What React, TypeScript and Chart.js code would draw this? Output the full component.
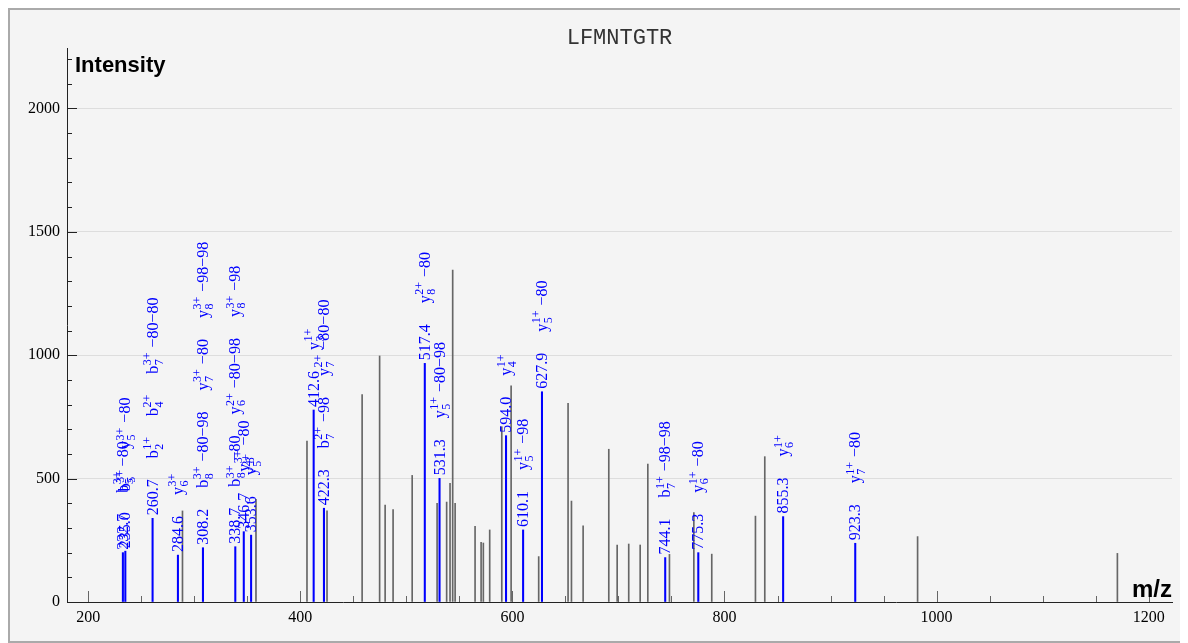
import React, { useEffect, useRef } from "react";
import { Chart, registerables } from "chart.js";

Chart.register(...registerables);

const TITLE = "LFMNTGTR";
const X_TITLE = "m/z";
const Y_TITLE = "Intensity";

// unannotated peaks
const unmatchedMz = [
  288.9, 358.2, 406.3, 425.2, 458.3, 474.8, 480.0, 487.5, 505.5, 529.0, 538.0, 541.2,
  543.7, 546.0, 564.8, 570.5, 572.6, 578.6, 590.0, 598.8, 624.8, 652.5, 655.7, 666.7,
  690.9, 698.8, 709.7, 720.5, 727.7, 748.1, 771.1, 788.0, 829.2, 838.0, 982.1, 1170.5,
];
const unmatchedIntensity = [
  369, 416, 652, 369, 841, 997, 393, 375, 513, 400, 405, 481,
  1345, 400, 307, 242, 239, 292, 710, 876, 184, 805, 409, 309,
  619, 231, 235, 231, 559, 193, 362, 194, 348, 589, 265, 197,
];

// annotated peaks
const matchedMz = [
  232.7, 235.0, 260.7, 284.6, 308.2, 338.7, 346.7, 353.6, 412.6, 422.3,
  517.4, 531.3, 594.0, 610.1, 627.9, 744.1, 775.3, 855.3, 923.3,
];
const matchedIntensity = [
  200, 206, 339, 190, 220, 224, 285, 271, 778, 380,
  967, 501, 674, 292, 852, 180, 200, 346, 238,
];
const matchedLabels = [
  "232.7", "235.0", "260.7", "284.6", "308.2", "338.7", "346.7", "353.6", "412.6", "422.3",
  "517.4", "531.3", "594.0", "610.1", "627.9", "744.1", "775.3", "855.3", "923.3",
];
const matchedIons: string[][] = [
  ["b_5^{3+}−80"],
  ["b_5^{3+}", "y_5^{3+}−80"],
  ["b_2^{1+}", "b_4^{2+}", "b_7^{3+}−80−80"],
  ["y_6^{3+}"],
  ["b_8^{3+}−80−98", "y_7^{3+}−80", "y_8^{3+}−98−98"],
  ["b_8^{3+}−80", "y_6^{2+}−80−98", "y_8^{3+}−98"],
  ["y_8^{3+}−80"],
  ["y_5^{2+}"],
  ["y_3^{1+}"],
  ["b_7^{2+}−98", "y_7^{2+}−80−80"],
  ["y_8^{2+}−80"],
  ["y_5^{1+}−80−98"],
  ["y_4^{1+}"],
  ["y_5^{1+}−98"],
  ["y_5^{1+}−80"],
  ["b_7^{1+}−98−98"],
  ["y_6^{1+}−80"],
  ["y_6^{1+}"],
  ["y_7^{1+}−80"],
];

const X_MIN = 180;
const X_MAX = 1222;
const Y_MIN = 0;
const Y_MAX = 2245;
const X_MINOR_STEP = 50;
const X_MAJOR_STEP = 200;
const Y_MINOR_STEP = 100;
const Y_MAJOR_STEP = 500;

const BLUE = "#0000ff";
const GRAY = "#666666";
const AXIS = "#222222";
const MAIN_FONT = '16px "Liberation Serif"';
const SMALL_FONT = '12px "Liberation Serif"';

function drawPlain(ctx: CanvasRenderingContext2D, text: string, u: number): number {
  ctx.font = MAIN_FONT;
  ctx.fillText(text, u, 0);
  return ctx.measureText(text).width;
}

function drawIon(ctx: CanvasRenderingContext2D, label: string, u: number): number {
  const m = label.match(/^([A-Za-z]+)_(\w+)\^\{([^}]*)\}(.*)$/);
  if (!m) return drawPlain(ctx, label, u);
  const [, letter, sub, sup, rest] = m;
  ctx.font = MAIN_FONT;
  ctx.fillText(letter, u, 0);
  const w1 = ctx.measureText(letter).width;
  ctx.font = SMALL_FONT;
  ctx.fillText(sup, u + w1 + 0.5, -6.5);
  ctx.fillText(sub, u + w1 + 0.5, 5);
  const wS = Math.max(ctx.measureText(sup).width, ctx.measureText(sub).width) + 0.5;
  let w = w1 + wS;
  if (rest) {
    ctx.font = MAIN_FONT;
    ctx.fillText(rest, u + w + 5, 0);
    w += 5 + ctx.measureText(rest).width;
  }
  return w;
}

const spectrumPlugin = {
  id: "spectrumDecor",
  beforeDatasetsDraw(chart: any) {
    const { ctx, chartArea, scales } = chart;
    const xs = scales.x;
    const ys = scales.y;
    ctx.save();
    ctx.strokeStyle = AXIS;
    ctx.lineWidth = 1;
    ctx.beginPath();
    for (const t of ys.ticks) {
      const py = Math.round(ys.getPixelForValue(t.value)) + 0.5;
      const len = t.value % Y_MAJOR_STEP === 0 ? 10 : 5;
      ctx.moveTo(chartArea.left, py);
      ctx.lineTo(chartArea.left + len, py);
    }
    ctx.stroke();
    ctx.strokeStyle = GRAY;
    ctx.beginPath();
    for (const t of xs.ticks) {
      const px = Math.round(xs.getPixelForValue(t.value)) + 0.5;
      const len = t.value % X_MAJOR_STEP === 0 ? 11 : 6;
      ctx.moveTo(px, chartArea.bottom);
      ctx.lineTo(px, chartArea.bottom - len);
    }
    ctx.stroke();
    ctx.restore();
  },
  afterDatasetsDraw(chart: any) {
    const { ctx, chartArea, scales } = chart;
    const xs = scales.x;
    const ys = scales.y;
    ctx.save();
    ctx.fillStyle = BLUE;
    ctx.textAlign = "left";
    ctx.textBaseline = "alphabetic";
    const GAP = 21;
    for (let i = 0; i < matchedMz.length; i++) {
      const px = xs.getPixelForValue(matchedMz[i]);
      const py = ys.getPixelForValue(matchedIntensity[i]);
      ctx.save();
      ctx.translate(px + 5, py - 3);
      ctx.rotate(-Math.PI / 2);
      let u = 0;
      u += drawPlain(ctx, matchedLabels[i], u) + GAP;
      for (const ion of matchedIons[i]) {
        u += drawIon(ctx, ion, u) + GAP;
      }
      ctx.restore();
    }
    ctx.restore();

    // titles
    ctx.save();
    ctx.fillStyle = "#333333";
    ctx.font = '22px "Liberation Mono"';
    ctx.textAlign = "center";
    ctx.textBaseline = "alphabetic";
    ctx.fillText(TITLE, (chartArea.left + chartArea.right) / 2, chartArea.top - 4);
    ctx.fillStyle = "#000000";
    ctx.font = 'bold 22px "Liberation Sans"';
    ctx.textAlign = "left";
    ctx.fillText(Y_TITLE, chartArea.left + 8, chartArea.top + 24);
    ctx.font = 'bold 24px "Liberation Sans"';
    ctx.textAlign = "right";
    ctx.fillText(X_TITLE, chartArea.right, chartArea.bottom - 5);
    ctx.restore();
  },
};

export default function App() {
  const canvasRef = useRef<HTMLCanvasElement | null>(null);

  useEffect(() => {
    const canvas = canvasRef.current;
    if (!canvas) return;
    const chart = new Chart(canvas, {
      type: "bar",
      data: {
        datasets: [
          {
            data: matchedMz.map((m, i) => ({ x: m, y: matchedIntensity[i] })),
            backgroundColor: BLUE,
            borderWidth: 0,
            barThickness: 1.4,
            grouped: false,
          } as any,
          {
            data: unmatchedMz.map((m, i) => ({ x: m, y: unmatchedIntensity[i] })),
            backgroundColor: GRAY,
            borderWidth: 0,
            barThickness: 1,
            grouped: false,
          } as any,
        ],
      },
      options: {
        animation: false,
        responsive: false,
        maintainAspectRatio: false,
        events: [],
        layout: { padding: { left: 0, right: 14, top: 38, bottom: 0 } },
        plugins: {
          legend: { display: false },
          tooltip: { enabled: false },
          title: { display: false },
        },
        scales: {
          x: {
            type: "linear",
            min: X_MIN,
            max: X_MAX,
            offset: false,
            afterFit: (s: any) => {
              s.height = 39;
            },
            grid: { display: false, drawTicks: false, offset: false },
            border: { display: true, color: AXIS, width: 1 },
            ticks: {
              stepSize: X_MINOR_STEP,
              autoSkip: false,
              includeBounds: false,
              maxRotation: 0,
              minRotation: 0,
              padding: 6,
              color: "#000000",
              font: { family: "Liberation Serif", size: 16 },
              callback: (v: any) => (Number(v) % X_MAJOR_STEP === 0 ? String(v) : ""),
            },
          } as any,
          y: {
            type: "linear",
            min: Y_MIN,
            max: Y_MAX,
            afterFit: (s: any) => {
              s.width = 57;
            },
            grid: {
              drawTicks: false,
              color: (c: any) =>
                c.tick && c.tick.value % Y_MAJOR_STEP === 0 && c.tick.value !== 0
                  ? "#dddddd"
                  : "rgba(0,0,0,0)",
              lineWidth: 1,
            },
            border: { display: true, color: AXIS, width: 1 },
            ticks: {
              stepSize: Y_MINOR_STEP,
              autoSkip: false,
              includeBounds: false,
              padding: 7,
              color: "#000000",
              font: { family: "Liberation Serif", size: 16 },
              callback: (v: any) => (Number(v) % Y_MAJOR_STEP === 0 ? String(v) : ""),
            },
          } as any,
        },
      },
      plugins: [spectrumPlugin],
    });
    return () => chart.destroy();
  }, []);

  return (
    <div
      style={{
        width: 1180,
        height: 635,
        boxSizing: "border-box",
        border: "2px solid #aaaaaa",
        background: "#f4f4f4",
        overflow: "hidden",
      }}
    >
      <canvas ref={canvasRef} width={1176} height={631} style={{ display: "block" }} />
    </div>
  );
}
